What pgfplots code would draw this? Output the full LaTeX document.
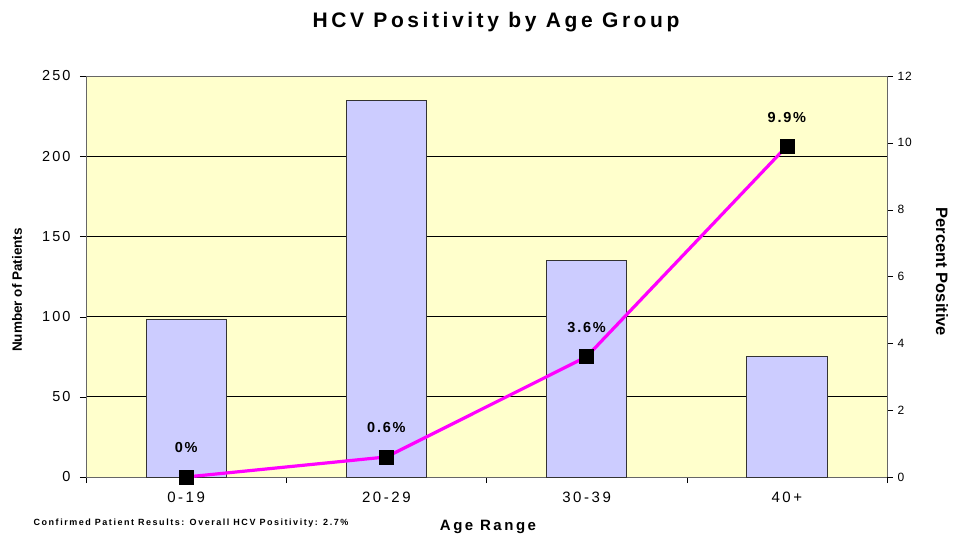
\documentclass[border=0pt]{standalone}
\usepackage{fontspec}
\setmainfont{Liberation Sans}
\usepackage{pgfplots}
\pgfplotsset{compat=1.18}
\definecolor{bgy}{HTML}{FFFFCC}
\definecolor{barc}{HTML}{CCCCFF}
\definecolor{mag}{HTML}{FF00FF}
\newcommand{\fs}[2]{\fontsize{#1}{#1}\selectfont\addfontfeature{LetterSpace=#2}}
\begin{document}
\begin{tikzpicture}[x=1pt,y=1pt]
\path[use as bounding box] (0,0) rectangle (953,536);
\begin{axis}[at={(86pt,59pt)}, anchor=south west, scale only axis,
  width=801pt, height=401pt,
  xmin=-0.5, xmax=3.5, ymin=0, ymax=250,
  axis background/.style={fill=bgy},
  axis line style={draw=gray!80!black},
  ytick={0,50,...,250}, ytick pos=left,
  xtick={0,1,2,3}, xtick pos=bottom,
  xticklabels={0-19,20-29,30-39,40+},
  minor xtick={-0.5,0.5,1.5,2.5,3.5},
  major x tick style={draw=none},
  minor x tick style={draw=black},
  y tick style={draw=black},
  tick align=outside, major tick length=6pt, minor tick length=6pt,
  ymajorgrids, grid style={black, line width=0.7pt},
  /pgf/number format/assume math mode=true,
  yticklabel style={font=\fs{14.5}{14}, xshift=-6pt},
  xticklabel style={font=\fs{15}{17}, yshift=-5pt},
  ybar, bar width=0.4,
]
\addplot[fill=barc, draw=black!80, line width=0.8pt] coordinates {(0,98) (1,235) (2,135) (3,75)};
\end{axis}
\begin{axis}[at={(86pt,59pt)}, anchor=south west, scale only axis,
  width=801pt, height=401pt,
  xmin=-0.5, xmax=3.5, ymin=0, ymax=12,
  axis y line*=right, axis x line=none,
  axis line style={draw=gray!80!black},
  ytick={0,2,...,12},
  y tick style={draw=black},
  tick align=outside, major tick length=6pt,
  /pgf/number format/assume math mode=true,
  yticklabel style={font=\fs{12}{8}, xshift=1pt},
  clip=false,
]
\addplot[mag, line width=3.2pt, mark=square*, mark options={fill=black, draw=black, line width=0.5pt, mark size=7pt},
  point meta=explicit symbolic,
  nodes near coords, every node near coord/.style={black, anchor=center, yshift=29pt, font=\bfseries\fs{14.5}{12}}]
  coordinates {(0,0) [0\%] (1,0.6) [0.6\%] (2,3.6) [3.6\%] (3,9.9) [9.9\%]};
\end{axis}
\node[font=\bfseries\fs{21}{17}] at (496,514) {HCV Positivity by Age Group};
\node[font=\bfseries\fontsize{13.5}{14}\selectfont, rotate=90] at (17,246) {Number of Patients};
\node[font=\bfseries\fontsize{16.5}{17}\selectfont, rotate=-90] at (942,264) {Percent Positive};
\node[font=\bfseries\fs{15}{17}] at (488,9) {Age Range};
\node[font=\bfseries\fs{9}{17}] at (191,13) {Confirmed Patient Results: Overall HCV Positivity: 2.7\%};
\end{tikzpicture}
\end{document}
